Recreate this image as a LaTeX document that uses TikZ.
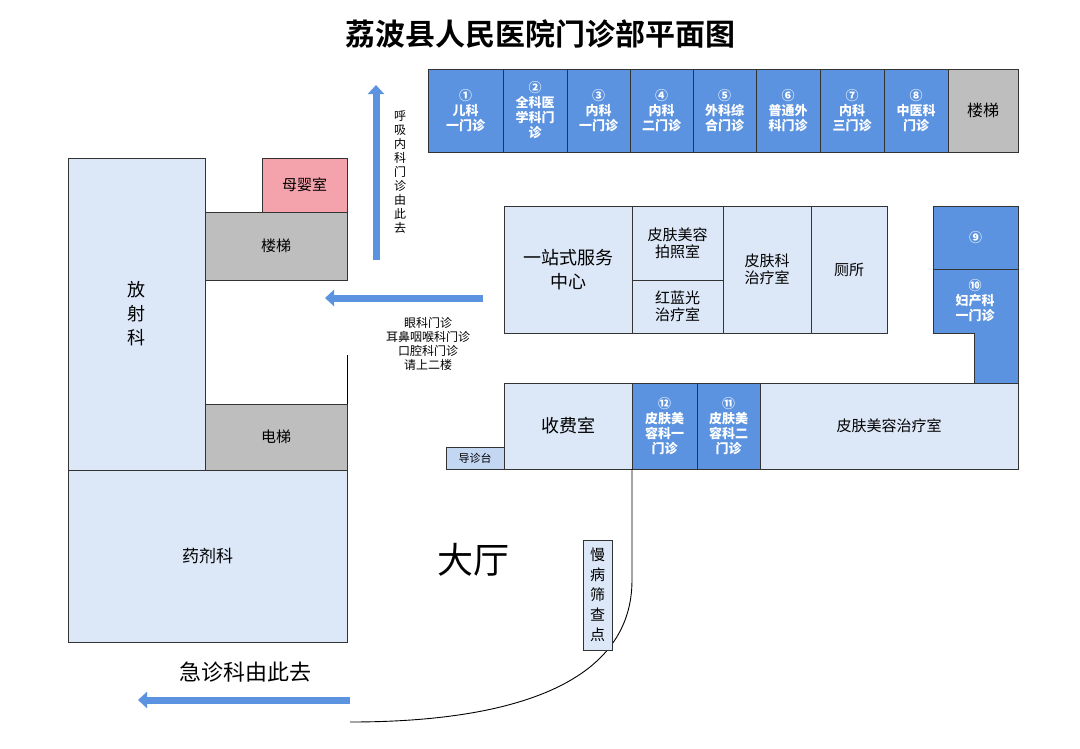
\documentclass[tikz,border=0pt]{standalone}
\usepackage{fontspec}
\setmainfont{Noto Sans CJK SC}
\newfontfamily\titlefont{Noto Sans CJK SC Bold}
\usetikzlibrary{arrows.meta}
\definecolor{darkblue}{HTML}{5B93E0}
\definecolor{paleblue}{HTML}{DCE7F7}
\definecolor{deskblue}{HTML}{C3D6F2}
\definecolor{stairgrey}{HTML}{BEBEBE}
\definecolor{babypink}{HTML}{F4A3AD}
\tikzset{
  room/.style = {draw=black!80, line width=0.8pt, fill=paleblue},
  clinic/.style = {room, fill=darkblue},
  stair/.style = {room, fill=stairgrey},
  roomtext/.style = {font=\fontsize{15}{17}\selectfont, align=center},
  clinictext/.style = {font=\bfseries\fontsize{13}{15}\selectfont, text=white, align=center},
  guide/.style = {-{Triangle[length=9pt,width=16pt]}, line width=7pt, draw=darkblue},
  note/.style = {font=\fontsize{12}{14}\selectfont, align=center}
}
\begin{document}
\begin{tikzpicture}[x=1pt, y=-1pt]
\useasboundingbox (0,0) rectangle (1080,748);
\node[font=\titlefont\fontsize{30}{32}\selectfont] (title) at (540,34) {荔波县人民医院门诊部平面图};

% top row of clinics
\foreach \xa/\xb/\txt [count=\i] in {428/503/{①\\儿科\\一门诊}, 503/567/{②\\全科医\\学科门\\诊}, 567/630/{③\\内科\\一门诊}, 630/693/{④\\内科\\二门诊}, 693/756/{⑤\\外科综\\合门诊}, 756/820/{⑥\\普通外\\科门诊}, 820/884/{⑦\\内科\\三门诊}, 884/948/{⑧\\中医科\\门诊}}
  \draw[clinic] (\xa,69) rectangle node[clinictext] (top\i) {\txt} (\xb,152);
\draw[stair] (948,69) rectangle node[roomtext, font=\fontsize{16}{18}\selectfont] (topstair) {楼梯} (1018,152);

% left block
\draw[room] (68,158) rectangle node[roomtext, font=\fontsize{18}{24}\selectfont] (xray) {放\\射\\科} (205,470);
\draw[room, fill=babypink] (262,158) rectangle node[roomtext] (mother) {母婴室} (347,212);
\draw[stair] (205,212) rectangle node[roomtext] (leftstair) {楼梯} (347,280);
\draw[stair] (205,404) rectangle node[roomtext] (lift) {电梯} (347,470);
\draw[room] (68,470) rectangle node[roomtext, font=\fontsize{17}{20}\selectfont] (pharmacy) {药剂科} (347,642);
\draw[line width=0.8pt] (347,355) -- (347,404);

% middle block
\draw[room] (504,206) rectangle node[roomtext, font=\fontsize{18}{24}\selectfont] (service) {一站式服务\\中心} (632,333);
\draw[room] (632,206) rectangle node[roomtext] (photo) {皮肤美容\\拍照室} (723,280);
\draw[room] (632,280) rectangle node[roomtext] (light) {红蓝光\\治疗室} (723,333);
\draw[room] (723,206) rectangle node[roomtext] (derm) {皮肤科\\治疗室} (811,333);
\draw[room] (811,206) rectangle node[roomtext] (wc) {厕所} (887,333);

% right block
\draw[clinic] (933,206) rectangle node[clinictext] (c9) {⑨} (1018,269);
\draw[clinic] (933,269) -- (1018,269) -- (1018,383) -- (974,383) -- (974,333) -- (933,333) -- cycle;
\node[clinictext] (c10) at (975,301) {⑩\\妇产科\\一门诊};

% bottom row
\draw[room] (504,383) rectangle node[roomtext, font=\fontsize{18}{22}\selectfont] (cashier) {收费室} (632,469);
\draw[clinic] (632,383) rectangle node[clinictext] (c12) {⑫\\皮肤美\\容科一\\门诊} (697,469);
\draw[clinic] (697,383) rectangle node[clinictext] (c11) {⑪\\皮肤美\\容科二\\门诊} (760,469);
\draw[room] (760,383) rectangle node[roomtext] (beauty) {皮肤美容治疗室} (1018,469);
\draw[room, fill=deskblue] (446,447) rectangle node[font=\fontsize{11}{13}\selectfont] (desk) {导诊台} (504,469);

% hall
\coordinate (curvestart) at (632,469);
\coordinate (curveend) at (350,722);
\draw[line width=0.9pt] (curvestart) -- (632,580) .. controls (632,680) and (520,722) .. (curveend);
\node[font=\fontsize{36}{38}\selectfont] (hall) at (473,560) {大厅};
\draw[room] (583,540) rectangle node[roomtext, font=\fontsize{15}{20}\selectfont] (screen) {慢\\病\\筛\\查\\点} (612,650);

% guide arrows
\coordinate (upfrom) at (376,260);
\coordinate (upto) at (376,85);
\draw[guide] (upfrom) -- (upto);
\node[note, font=\fontsize{12}{14}\selectfont] (resp) at (400,172) {呼\\吸\\内\\科\\门\\诊\\由\\此\\去};
\coordinate (leftfrom) at (483,298);
\coordinate (leftto) at (325,298);
\draw[guide] (leftfrom) -- (leftto);
\node[note] (upstairs) at (428,344) {眼科门诊\\耳鼻咽喉科门诊\\口腔科门诊\\请上二楼};
\node[font=\fontsize{22}{24}\selectfont] (emerg) at (245,672) {急诊科由此去};
\coordinate (emfrom) at (350,700);
\coordinate (emto) at (138,700);
\draw[guide] (emfrom) -- (emto);
\end{tikzpicture}
\end{document}
